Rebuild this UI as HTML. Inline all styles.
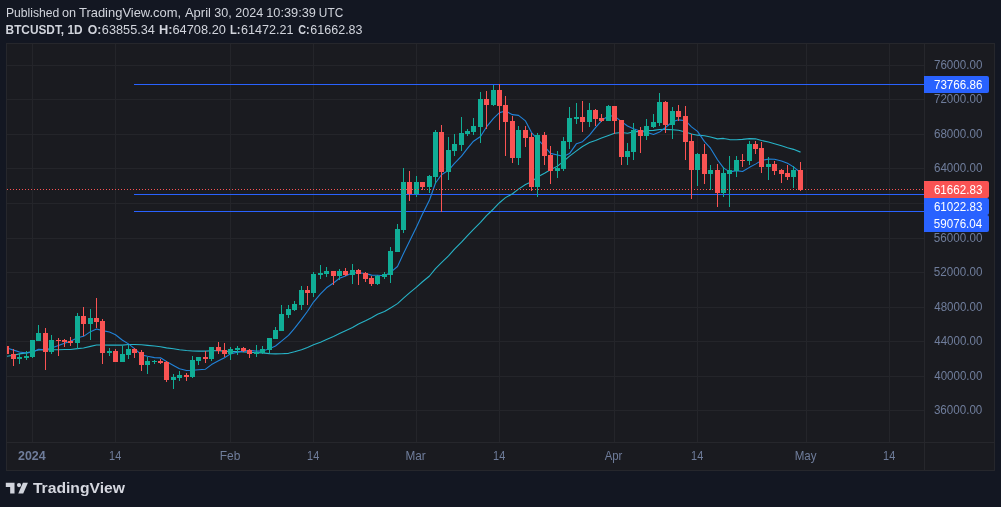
<!DOCTYPE html>
<html><head><meta charset="utf-8"><title>BTCUSDT</title>
<style>
html,body{margin:0;padding:0;background:#131722;}
body{width:1001px;height:507px;overflow:hidden;position:relative;font-family:"Liberation Sans",sans-serif;}
svg{position:absolute;left:0;top:0;will-change:transform;}
text{font-family:"Liberation Sans",sans-serif;}
</style></head><body>
<svg width="1001" height="507" viewBox="0 0 1001 507">
<rect x="0" y="0" width="1001" height="507" fill="#131722"/>
<!-- chart frame -->
<rect x="6" y="43" width="989" height="428" fill="#26272c"/>
<rect x="7" y="44" width="987" height="426" fill="#1a1b20"/>
<!-- grid -->
<g fill="#24252a" shape-rendering="crispEdges">
<rect x="7" y="65" width="917" height="1"/><rect x="7" y="99" width="917" height="1"/><rect x="7" y="134" width="917" height="1"/><rect x="7" y="168" width="917" height="1"/><rect x="7" y="203" width="917" height="1"/><rect x="7" y="238" width="917" height="1"/><rect x="7" y="272" width="917" height="1"/><rect x="7" y="307" width="917" height="1"/><rect x="7" y="341" width="917" height="1"/><rect x="7" y="376" width="917" height="1"/><rect x="7" y="410" width="917" height="1"/>
<rect x="32" y="44" width="1" height="398"/><rect x="115" y="44" width="1" height="398"/><rect x="230" y="44" width="1" height="398"/><rect x="313" y="44" width="1" height="398"/><rect x="416" y="44" width="1" height="398"/><rect x="499" y="44" width="1" height="398"/><rect x="614" y="44" width="1" height="398"/><rect x="697" y="44" width="1" height="398"/><rect x="806" y="44" width="1" height="398"/><rect x="889" y="44" width="1" height="398"/>
</g>
<!-- axes separators -->
<g fill="#26272c" shape-rendering="crispEdges">
<rect x="924" y="44" width="1" height="426"/>
<rect x="7" y="442" width="987" height="1"/>
</g>
<defs><clipPath id="cp"><rect x="7" y="44" width="917" height="398"/></clipPath></defs>
<g clip-path="url(#cp)">
<!-- horizontal lines -->
<g fill="#2962ff" shape-rendering="crispEdges">
<rect x="134" y="84" width="790" height="1"/>
<rect x="134" y="194" width="790" height="1"/>
<rect x="134" y="211" width="790" height="1"/>
</g>
<path d="M6.50,356.38 L13.50,355.17 L19.50,353.90 L26.50,352.86 L32.50,351.50 L38.50,350.07 L45.50,349.82 L51.50,349.80 L58.50,349.69 L64.50,349.49 L70.50,349.56 L77.50,348.63 L83.50,347.96 L90.50,346.40 L96.50,345.01 L102.50,345.03 L109.50,345.08 L115.50,345.14 L122.50,345.08 L128.50,344.57 L134.50,344.53 L141.50,344.80 L147.50,345.38 L154.50,346.01 L160.50,346.70 L166.50,347.89 L173.50,348.78 L179.50,349.78 L186.50,350.52 L192.50,350.98 L198.50,351.13 L205.50,351.14 L211.50,350.81 L218.50,350.62 L224.50,351.08 L230.50,351.61 L237.50,351.51 L243.50,351.84 L249.50,352.29 L256.50,352.65 L262.50,352.89 L269.50,353.64 L275.50,353.88 L281.50,353.74 L288.50,353.33 L294.50,351.74 L301.50,349.71 L307.50,347.41 L313.50,344.74 L320.50,342.22 L326.50,339.53 L333.50,336.56 L339.50,333.55 L345.50,330.64 L352.50,327.57 L358.50,324.03 L365.50,320.75 L371.50,317.69 L377.50,314.34 L384.50,311.49 L390.50,307.93 L397.50,303.61 L403.50,298.11 L409.50,292.87 L416.50,287.17 L422.50,281.72 L429.50,275.99 L435.50,268.72 L441.50,262.64 L448.50,255.91 L454.50,249.08 L461.50,242.23 L467.50,235.61 L473.50,229.32 L480.50,222.32 L486.50,215.65 L493.50,208.98 L499.50,202.74 L505.50,197.64 L512.50,193.78 L518.50,189.09 L525.50,184.50 L531.50,181.68 L537.50,177.05 L544.50,173.24 L550.50,169.80 L557.50,166.13 L563.50,161.39 L569.50,156.11 L576.50,150.86 L582.50,146.54 L589.50,142.58 L595.50,140.45 L601.50,138.01 L608.50,135.45 L614.50,133.25 L621.50,132.57 L627.50,133.23 L633.50,131.86 L640.50,131.35 L646.50,130.76 L653.50,130.40 L659.50,129.44 L665.50,129.39 L672.50,129.80 L678.50,130.21 L685.50,131.92 L691.50,134.07 L697.50,135.17 L704.50,135.72 L710.50,137.04 L717.50,138.86 L723.50,138.42 L729.50,139.58 L736.50,139.74 L742.50,139.41 L749.50,138.61 L755.50,138.84 L761.50,140.45 L768.50,142.03 L774.50,143.67 L781.50,145.78 L787.50,147.72 L793.50,149.36 L800.50,152.13" fill="none" stroke="#27b3c7" stroke-width="1.1" stroke-linejoin="round"/>
<path d="M6.50,347.79 L13.50,350.13 L19.50,352.06 L26.50,352.94 L32.50,352.19 L38.50,349.18 L45.50,349.90 L51.50,348.05 L58.50,345.49 L64.50,343.23 L70.50,341.20 L77.50,337.78 L83.50,336.34 L90.50,331.64 L96.50,328.94 L102.50,330.63 L109.50,332.01 L115.50,334.72 L122.50,340.20 L128.50,343.87 L134.50,348.65 L141.50,354.84 L147.50,356.22 L154.50,357.64 L160.50,357.83 L166.50,361.46 L173.50,365.46 L179.50,368.78 L186.50,370.47 L192.50,370.26 L198.50,369.74 L205.50,369.18 L211.50,364.58 L218.50,360.82 L224.50,357.74 L230.50,353.89 L237.50,352.19 L243.50,351.09 L249.50,350.41 L256.50,351.14 L262.50,350.95 L269.50,348.77 L275.50,346.04 L281.50,341.19 L288.50,335.34 L294.50,328.29 L301.50,319.39 L307.50,311.25 L313.50,302.06 L320.50,293.93 L326.50,287.77 L333.50,282.97 L339.50,278.23 L345.50,275.94 L352.50,272.78 L358.50,272.71 L365.50,273.45 L371.50,275.15 L377.50,275.24 L384.50,275.74 L390.50,272.41 L397.50,266.51 L403.50,253.45 L409.50,241.31 L416.50,226.94 L422.50,214.09 L429.50,200.04 L435.50,183.05 L441.50,174.80 L448.50,170.30 L454.50,163.28 L461.50,156.20 L467.50,148.39 L473.50,141.19 L480.50,136.46 L486.50,126.92 L493.50,118.28 L499.50,112.65 L505.50,110.96 L512.50,114.67 L518.50,115.37 L525.50,120.88 L531.50,132.62 L537.50,139.08 L544.50,146.34 L550.50,153.38 L557.50,154.94 L563.50,156.40 L569.50,153.59 L576.50,143.66 L582.50,141.65 L589.50,135.14 L595.50,127.67 L601.50,120.82 L608.50,115.80 L614.50,116.09 L621.50,121.67 L627.50,126.00 L633.50,128.83 L640.50,131.33 L646.50,132.18 L653.50,134.55 L659.50,132.08 L665.50,127.53 L672.50,121.77 L678.50,119.84 L685.50,120.71 L691.50,126.85 L697.50,131.41 L704.50,141.57 L710.50,148.17 L717.50,159.72 L723.50,167.84 L729.50,171.91 L736.50,170.65 L742.50,171.55 L749.50,167.35 L755.50,164.12 L761.50,160.40 L768.50,159.13 L774.50,159.19 L781.50,161.02 L787.50,163.26 L793.50,166.90 L800.50,172.77" fill="none" stroke="#2183d9" stroke-width="1.1" stroke-linejoin="round"/>
<g shape-rendering="crispEdges">
<rect x="6" y="343" width="1" height="14" fill="#fa5353"/>
<rect x="4" y="346" width="5" height="8" fill="#fa5353"/>
<rect x="13" y="349" width="1" height="17" fill="#fa5353"/>
<rect x="11" y="354" width="5" height="5" fill="#fa5353"/>
<rect x="19" y="353" width="1" height="11" fill="#10ad96"/>
<rect x="17" y="357" width="5" height="2" fill="#10ad96"/>
<rect x="26" y="351" width="1" height="9" fill="#10ad96"/>
<rect x="24" y="356" width="5" height="2" fill="#10ad96"/>
<rect x="32" y="340" width="1" height="18" fill="#10ad96"/>
<rect x="30" y="340" width="5" height="17" fill="#10ad96"/>
<rect x="38" y="325" width="1" height="16" fill="#10ad96"/>
<rect x="36" y="333" width="5" height="8" fill="#10ad96"/>
<rect x="45" y="328" width="1" height="42" fill="#fa5353"/>
<rect x="43" y="333" width="5" height="19" fill="#fa5353"/>
<rect x="51" y="335" width="1" height="19" fill="#10ad96"/>
<rect x="49" y="340" width="5" height="12" fill="#10ad96"/>
<rect x="58" y="338" width="1" height="18" fill="#fa5353"/>
<rect x="56" y="340" width="5" height="1" fill="#fa5353"/>
<rect x="64" y="339" width="1" height="8" fill="#fa5353"/>
<rect x="62" y="340" width="5" height="2" fill="#fa5353"/>
<rect x="70" y="337" width="1" height="9" fill="#fa5353"/>
<rect x="68" y="341" width="5" height="2" fill="#fa5353"/>
<rect x="77" y="313" width="1" height="36" fill="#10ad96"/>
<rect x="75" y="316" width="5" height="27" fill="#10ad96"/>
<rect x="83" y="307" width="1" height="29" fill="#fa5353"/>
<rect x="81" y="316" width="5" height="8" fill="#fa5353"/>
<rect x="90" y="309" width="1" height="31" fill="#10ad96"/>
<rect x="88" y="318" width="5" height="6" fill="#10ad96"/>
<rect x="96" y="298" width="1" height="30" fill="#fa5353"/>
<rect x="94" y="318" width="5" height="4" fill="#fa5353"/>
<rect x="102" y="319" width="1" height="45" fill="#fa5353"/>
<rect x="100" y="321" width="5" height="32" fill="#fa5353"/>
<rect x="109" y="348" width="1" height="8" fill="#10ad96"/>
<rect x="107" y="351" width="5" height="2" fill="#10ad96"/>
<rect x="115" y="349" width="1" height="13" fill="#fa5353"/>
<rect x="113" y="351" width="5" height="11" fill="#fa5353"/>
<rect x="122" y="346" width="1" height="16" fill="#10ad96"/>
<rect x="120" y="354" width="5" height="8" fill="#10ad96"/>
<rect x="128" y="345" width="1" height="14" fill="#10ad96"/>
<rect x="126" y="349" width="5" height="6" fill="#10ad96"/>
<rect x="134" y="348" width="1" height="10" fill="#fa5353"/>
<rect x="132" y="349" width="5" height="4" fill="#fa5353"/>
<rect x="141" y="350" width="1" height="21" fill="#fa5353"/>
<rect x="139" y="352" width="5" height="13" fill="#fa5353"/>
<rect x="147" y="357" width="1" height="17" fill="#10ad96"/>
<rect x="145" y="361" width="5" height="4" fill="#10ad96"/>
<rect x="154" y="360" width="1" height="4" fill="#10ad96"/>
<rect x="152" y="361" width="5" height="1" fill="#10ad96"/>
<rect x="160" y="359" width="1" height="5" fill="#fa5353"/>
<rect x="158" y="361" width="5" height="2" fill="#fa5353"/>
<rect x="166" y="361" width="1" height="21" fill="#fa5353"/>
<rect x="164" y="362" width="5" height="18" fill="#fa5353"/>
<rect x="173" y="374" width="1" height="15" fill="#10ad96"/>
<rect x="171" y="377" width="5" height="3" fill="#10ad96"/>
<rect x="179" y="371" width="1" height="10" fill="#10ad96"/>
<rect x="177" y="375" width="5" height="3" fill="#10ad96"/>
<rect x="186" y="373" width="1" height="8" fill="#fa5353"/>
<rect x="184" y="375" width="5" height="2" fill="#fa5353"/>
<rect x="192" y="356" width="1" height="22" fill="#10ad96"/>
<rect x="190" y="360" width="5" height="17" fill="#10ad96"/>
<rect x="198" y="357" width="1" height="8" fill="#10ad96"/>
<rect x="196" y="357" width="5" height="4" fill="#10ad96"/>
<rect x="205" y="351" width="1" height="12" fill="#fa5353"/>
<rect x="203" y="357" width="5" height="2" fill="#fa5353"/>
<rect x="211" y="347" width="1" height="14" fill="#10ad96"/>
<rect x="209" y="347" width="5" height="12" fill="#10ad96"/>
<rect x="218" y="342" width="1" height="12" fill="#fa5353"/>
<rect x="216" y="347" width="5" height="4" fill="#fa5353"/>
<rect x="224" y="343" width="1" height="14" fill="#fa5353"/>
<rect x="222" y="350" width="5" height="4" fill="#fa5353"/>
<rect x="230" y="347" width="1" height="13" fill="#10ad96"/>
<rect x="228" y="349" width="5" height="5" fill="#10ad96"/>
<rect x="237" y="346" width="1" height="9" fill="#10ad96"/>
<rect x="235" y="348" width="5" height="2" fill="#10ad96"/>
<rect x="243" y="347" width="1" height="5" fill="#fa5353"/>
<rect x="241" y="348" width="5" height="3" fill="#fa5353"/>
<rect x="249" y="349" width="1" height="9" fill="#fa5353"/>
<rect x="247" y="350" width="5" height="4" fill="#fa5353"/>
<rect x="256" y="345" width="1" height="12" fill="#10ad96"/>
<rect x="254" y="352" width="5" height="2" fill="#10ad96"/>
<rect x="262" y="346" width="1" height="8" fill="#10ad96"/>
<rect x="260" y="349" width="5" height="4" fill="#10ad96"/>
<rect x="269" y="338" width="1" height="15" fill="#10ad96"/>
<rect x="267" y="338" width="5" height="12" fill="#10ad96"/>
<rect x="275" y="327" width="1" height="12" fill="#10ad96"/>
<rect x="273" y="330" width="5" height="9" fill="#10ad96"/>
<rect x="281" y="305" width="1" height="26" fill="#10ad96"/>
<rect x="279" y="314" width="5" height="17" fill="#10ad96"/>
<rect x="288" y="305" width="1" height="13" fill="#10ad96"/>
<rect x="286" y="309" width="5" height="6" fill="#10ad96"/>
<rect x="294" y="301" width="1" height="10" fill="#10ad96"/>
<rect x="292" y="304" width="5" height="6" fill="#10ad96"/>
<rect x="301" y="286" width="1" height="24" fill="#10ad96"/>
<rect x="299" y="290" width="5" height="15" fill="#10ad96"/>
<rect x="307" y="286" width="1" height="19" fill="#fa5353"/>
<rect x="305" y="290" width="5" height="3" fill="#fa5353"/>
<rect x="313" y="272" width="1" height="25" fill="#10ad96"/>
<rect x="311" y="274" width="5" height="19" fill="#10ad96"/>
<rect x="320" y="265" width="1" height="14" fill="#10ad96"/>
<rect x="318" y="273" width="5" height="2" fill="#10ad96"/>
<rect x="326" y="267" width="1" height="10" fill="#10ad96"/>
<rect x="324" y="271" width="5" height="3" fill="#10ad96"/>
<rect x="333" y="271" width="1" height="14" fill="#fa5353"/>
<rect x="331" y="271" width="5" height="5" fill="#fa5353"/>
<rect x="339" y="269" width="1" height="11" fill="#10ad96"/>
<rect x="337" y="271" width="5" height="5" fill="#10ad96"/>
<rect x="345" y="268" width="1" height="8" fill="#fa5353"/>
<rect x="343" y="271" width="5" height="4" fill="#fa5353"/>
<rect x="352" y="264" width="1" height="20" fill="#10ad96"/>
<rect x="350" y="270" width="5" height="5" fill="#10ad96"/>
<rect x="358" y="269" width="1" height="16" fill="#fa5353"/>
<rect x="356" y="270" width="5" height="4" fill="#fa5353"/>
<rect x="365" y="272" width="1" height="10" fill="#fa5353"/>
<rect x="363" y="273" width="5" height="6" fill="#fa5353"/>
<rect x="371" y="276" width="1" height="10" fill="#fa5353"/>
<rect x="369" y="278" width="5" height="6" fill="#fa5353"/>
<rect x="377" y="275" width="1" height="10" fill="#10ad96"/>
<rect x="375" y="276" width="5" height="8" fill="#10ad96"/>
<rect x="384" y="272" width="1" height="7" fill="#10ad96"/>
<rect x="382" y="274" width="5" height="3" fill="#10ad96"/>
<rect x="390" y="247" width="1" height="36" fill="#10ad96"/>
<rect x="388" y="251" width="5" height="24" fill="#10ad96"/>
<rect x="397" y="224" width="1" height="28" fill="#10ad96"/>
<rect x="395" y="229" width="5" height="23" fill="#10ad96"/>
<rect x="403" y="168" width="1" height="65" fill="#10ad96"/>
<rect x="401" y="182" width="5" height="48" fill="#10ad96"/>
<rect x="409" y="171" width="1" height="30" fill="#fa5353"/>
<rect x="407" y="182" width="5" height="12" fill="#fa5353"/>
<rect x="416" y="176" width="1" height="21" fill="#10ad96"/>
<rect x="414" y="182" width="5" height="12" fill="#10ad96"/>
<rect x="422" y="182" width="1" height="8" fill="#fa5353"/>
<rect x="420" y="182" width="5" height="5" fill="#fa5353"/>
<rect x="429" y="175" width="1" height="18" fill="#10ad96"/>
<rect x="427" y="176" width="5" height="11" fill="#10ad96"/>
<rect x="435" y="130" width="1" height="54" fill="#10ad96"/>
<rect x="433" y="132" width="5" height="45" fill="#10ad96"/>
<rect x="441" y="125" width="1" height="87" fill="#fa5353"/>
<rect x="439" y="132" width="5" height="40" fill="#fa5353"/>
<rect x="448" y="137" width="1" height="43" fill="#10ad96"/>
<rect x="446" y="150" width="5" height="22" fill="#10ad96"/>
<rect x="454" y="134" width="1" height="22" fill="#10ad96"/>
<rect x="452" y="144" width="5" height="7" fill="#10ad96"/>
<rect x="461" y="117" width="1" height="34" fill="#10ad96"/>
<rect x="459" y="133" width="5" height="12" fill="#10ad96"/>
<rect x="467" y="129" width="1" height="7" fill="#10ad96"/>
<rect x="465" y="131" width="5" height="3" fill="#10ad96"/>
<rect x="473" y="118" width="1" height="17" fill="#10ad96"/>
<rect x="471" y="126" width="5" height="6" fill="#10ad96"/>
<rect x="480" y="92" width="1" height="51" fill="#10ad96"/>
<rect x="478" y="99" width="5" height="28" fill="#10ad96"/>
<rect x="486" y="91" width="1" height="38" fill="#fa5353"/>
<rect x="484" y="99" width="5" height="6" fill="#fa5353"/>
<rect x="493" y="85" width="1" height="21" fill="#10ad96"/>
<rect x="491" y="90" width="5" height="15" fill="#10ad96"/>
<rect x="499" y="84" width="1" height="46" fill="#fa5353"/>
<rect x="497" y="90" width="5" height="16" fill="#fa5353"/>
<rect x="505" y="96" width="1" height="60" fill="#fa5353"/>
<rect x="503" y="105" width="5" height="17" fill="#fa5353"/>
<rect x="512" y="116" width="1" height="47" fill="#fa5353"/>
<rect x="510" y="121" width="5" height="37" fill="#fa5353"/>
<rect x="518" y="126" width="1" height="39" fill="#10ad96"/>
<rect x="516" y="130" width="5" height="28" fill="#10ad96"/>
<rect x="525" y="126" width="1" height="21" fill="#fa5353"/>
<rect x="523" y="130" width="5" height="8" fill="#fa5353"/>
<rect x="531" y="133" width="1" height="58" fill="#fa5353"/>
<rect x="529" y="137" width="5" height="50" fill="#fa5353"/>
<rect x="537" y="133" width="1" height="64" fill="#10ad96"/>
<rect x="535" y="135" width="5" height="52" fill="#10ad96"/>
<rect x="544" y="132" width="1" height="33" fill="#fa5353"/>
<rect x="542" y="135" width="5" height="21" fill="#fa5353"/>
<rect x="550" y="146" width="1" height="38" fill="#fa5353"/>
<rect x="548" y="155" width="5" height="16" fill="#fa5353"/>
<rect x="557" y="151" width="1" height="27" fill="#10ad96"/>
<rect x="555" y="168" width="5" height="3" fill="#10ad96"/>
<rect x="563" y="137" width="1" height="34" fill="#10ad96"/>
<rect x="561" y="141" width="5" height="28" fill="#10ad96"/>
<rect x="569" y="107" width="1" height="42" fill="#10ad96"/>
<rect x="567" y="118" width="5" height="24" fill="#10ad96"/>
<rect x="576" y="103" width="1" height="21" fill="#10ad96"/>
<rect x="574" y="117" width="5" height="2" fill="#10ad96"/>
<rect x="582" y="101" width="1" height="31" fill="#fa5353"/>
<rect x="580" y="117" width="5" height="5" fill="#fa5353"/>
<rect x="589" y="103" width="1" height="24" fill="#10ad96"/>
<rect x="587" y="110" width="5" height="12" fill="#10ad96"/>
<rect x="595" y="109" width="1" height="17" fill="#fa5353"/>
<rect x="593" y="110" width="5" height="9" fill="#fa5353"/>
<rect x="601" y="114" width="1" height="8" fill="#fa5353"/>
<rect x="599" y="118" width="5" height="3" fill="#fa5353"/>
<rect x="608" y="105" width="1" height="16" fill="#10ad96"/>
<rect x="606" y="106" width="5" height="15" fill="#10ad96"/>
<rect x="614" y="106" width="1" height="28" fill="#fa5353"/>
<rect x="612" y="106" width="5" height="15" fill="#fa5353"/>
<rect x="621" y="120" width="1" height="45" fill="#fa5353"/>
<rect x="619" y="120" width="5" height="37" fill="#fa5353"/>
<rect x="627" y="143" width="1" height="22" fill="#10ad96"/>
<rect x="625" y="151" width="5" height="6" fill="#10ad96"/>
<rect x="633" y="123" width="1" height="37" fill="#10ad96"/>
<rect x="631" y="130" width="5" height="22" fill="#10ad96"/>
<rect x="640" y="127" width="1" height="26" fill="#fa5353"/>
<rect x="638" y="130" width="5" height="6" fill="#fa5353"/>
<rect x="646" y="119" width="1" height="21" fill="#10ad96"/>
<rect x="644" y="126" width="5" height="10" fill="#10ad96"/>
<rect x="653" y="114" width="1" height="14" fill="#10ad96"/>
<rect x="651" y="122" width="5" height="5" fill="#10ad96"/>
<rect x="659" y="93" width="1" height="33" fill="#10ad96"/>
<rect x="657" y="102" width="5" height="21" fill="#10ad96"/>
<rect x="665" y="101" width="1" height="32" fill="#fa5353"/>
<rect x="663" y="102" width="5" height="23" fill="#fa5353"/>
<rect x="672" y="107" width="1" height="32" fill="#10ad96"/>
<rect x="670" y="111" width="5" height="14" fill="#10ad96"/>
<rect x="678" y="105" width="1" height="16" fill="#fa5353"/>
<rect x="676" y="111" width="5" height="6" fill="#fa5353"/>
<rect x="685" y="106" width="1" height="54" fill="#fa5353"/>
<rect x="683" y="116" width="5" height="26" fill="#fa5353"/>
<rect x="691" y="134" width="1" height="65" fill="#fa5353"/>
<rect x="689" y="141" width="5" height="29" fill="#fa5353"/>
<rect x="697" y="153" width="1" height="33" fill="#10ad96"/>
<rect x="695" y="154" width="5" height="16" fill="#10ad96"/>
<rect x="704" y="144" width="1" height="40" fill="#fa5353"/>
<rect x="702" y="154" width="5" height="20" fill="#fa5353"/>
<rect x="710" y="165" width="1" height="25" fill="#10ad96"/>
<rect x="708" y="170" width="5" height="4" fill="#10ad96"/>
<rect x="717" y="164" width="1" height="43" fill="#fa5353"/>
<rect x="715" y="170" width="5" height="23" fill="#fa5353"/>
<rect x="723" y="167" width="1" height="30" fill="#10ad96"/>
<rect x="721" y="173" width="5" height="20" fill="#10ad96"/>
<rect x="729" y="156" width="1" height="51" fill="#10ad96"/>
<rect x="727" y="170" width="5" height="4" fill="#10ad96"/>
<rect x="736" y="156" width="1" height="21" fill="#10ad96"/>
<rect x="734" y="160" width="5" height="11" fill="#10ad96"/>
<rect x="742" y="154" width="1" height="13" fill="#fa5353"/>
<rect x="740" y="160" width="5" height="1" fill="#fa5353"/>
<rect x="749" y="141" width="1" height="24" fill="#10ad96"/>
<rect x="747" y="144" width="5" height="17" fill="#10ad96"/>
<rect x="755" y="141" width="1" height="13" fill="#fa5353"/>
<rect x="753" y="144" width="5" height="5" fill="#fa5353"/>
<rect x="761" y="142" width="1" height="31" fill="#fa5353"/>
<rect x="759" y="148" width="5" height="19" fill="#fa5353"/>
<rect x="768" y="157" width="1" height="23" fill="#10ad96"/>
<rect x="766" y="164" width="5" height="3" fill="#10ad96"/>
<rect x="774" y="161" width="1" height="14" fill="#fa5353"/>
<rect x="772" y="164" width="5" height="7" fill="#fa5353"/>
<rect x="781" y="169" width="1" height="14" fill="#fa5353"/>
<rect x="779" y="170" width="5" height="4" fill="#fa5353"/>
<rect x="787" y="165" width="1" height="15" fill="#fa5353"/>
<rect x="785" y="173" width="5" height="4" fill="#fa5353"/>
<rect x="793" y="166" width="1" height="22" fill="#10ad96"/>
<rect x="791" y="170" width="5" height="7" fill="#10ad96"/>
<rect x="800" y="162" width="1" height="29" fill="#fa5353"/>
<rect x="798" y="170" width="5" height="20" fill="#fa5353"/>
</g>
<!-- price dotted line -->
<line x1="7" x2="924" y1="189.5" y2="189.5" stroke="#fa5353" stroke-width="1" stroke-dasharray="1 2" shape-rendering="crispEdges"/>
</g>
<!-- price labels -->
<g fill="#ffffff">
<path d="M924 76h63a2 2 0 0 1 2 2v13a2 2 0 0 1-2 2h-63z" fill="#2962ff"/>
<path d="M924 181h63a2 2 0 0 1 2 2v13a2 2 0 0 1-2 2h-63z" fill="#fa5353"/>
<path d="M924 198h63a2 2 0 0 1 2 2v13a2 2 0 0 1-2 2h-63z" fill="#2962ff"/>
<path d="M924 215h63a2 2 0 0 1 2 2v13a2 2 0 0 1-2 2h-63z" fill="#2962ff"/>
</g>
<text transform="translate(933.95 69) scale(0.9679 1)" font-size="12" font-weight="normal" fill="#6f7d9b">76000.00</text>
<text transform="translate(933.95 103) scale(0.9679 1)" font-size="12" font-weight="normal" fill="#6f7d9b">72000.00</text>
<text transform="translate(933.92 138) scale(0.9686 1)" font-size="12" font-weight="normal" fill="#6f7d9b">68000.00</text>
<text transform="translate(933.92 172) scale(0.9686 1)" font-size="12" font-weight="normal" fill="#6f7d9b">64000.00</text>
<text transform="translate(933.85 242) scale(0.9698 1)" font-size="12" font-weight="normal" fill="#6f7d9b">56000.00</text>
<text transform="translate(933.85 276) scale(0.9698 1)" font-size="12" font-weight="normal" fill="#6f7d9b">52000.00</text>
<text transform="translate(934.22 311) scale(0.9624 1)" font-size="12" font-weight="normal" fill="#6f7d9b">48000.00</text>
<text transform="translate(934.22 345) scale(0.9624 1)" font-size="12" font-weight="normal" fill="#6f7d9b">44000.00</text>
<text transform="translate(934.22 380) scale(0.9624 1)" font-size="12" font-weight="normal" fill="#6f7d9b">40000.00</text>
<text transform="translate(933.88 414) scale(0.9692 1)" font-size="12" font-weight="normal" fill="#6f7d9b">36000.00</text>
<text transform="translate(933.94 88.5) scale(0.9694 1)" font-size="12" font-weight="normal" fill="#ffffff">73766.86</text>
<text transform="translate(933.91 193.5) scale(0.9695 1)" font-size="12" font-weight="normal" fill="#ffffff">61662.83</text>
<text transform="translate(933.91 210.5) scale(0.9695 1)" font-size="12" font-weight="normal" fill="#ffffff">61022.83</text>
<text transform="translate(933.86 227.5) scale(0.9672 1)" font-size="12" font-weight="normal" fill="#ffffff">59076.04</text>
<!-- time labels -->
<text transform="translate(17.97 460) scale(1.0375 1)" font-size="12" font-weight="bold" fill="#6f7d9b">2024</text>
<text transform="translate(109.12 460) scale(0.9086 1)" font-size="12" font-weight="normal" fill="#6f7d9b">14</text>
<text transform="translate(219.71 460) scale(0.9971 1)" font-size="12" font-weight="normal" fill="#6f7d9b">Feb</text>
<text transform="translate(307.12 460) scale(0.9086 1)" font-size="12" font-weight="normal" fill="#6f7d9b">14</text>
<text transform="translate(405.53 460) scale(0.9812 1)" font-size="12" font-weight="normal" fill="#6f7d9b">Mar</text>
<text transform="translate(493.12 460) scale(0.9086 1)" font-size="12" font-weight="normal" fill="#6f7d9b">14</text>
<text transform="translate(604.66 460) scale(0.9507 1)" font-size="12" font-weight="normal" fill="#6f7d9b">Apr</text>
<text transform="translate(691.12 460) scale(0.9086 1)" font-size="12" font-weight="normal" fill="#6f7d9b">14</text>
<text transform="translate(794.75 460) scale(0.9638 1)" font-size="12" font-weight="normal" fill="#6f7d9b">May</text>
<text transform="translate(883.12 460) scale(0.9086 1)" font-size="12" font-weight="normal" fill="#6f7d9b">14</text>
<!-- header -->
<text transform="translate(5.89 17) scale(1.0142 1)" font-size="12" font-weight="normal" fill="#d1d4dc">Published</text>
<text transform="translate(62.07 17) scale(1.0553 1)" font-size="12" font-weight="normal" fill="#d1d4dc">on</text>
<text transform="translate(79.00 17) scale(1.0801 1)" font-size="12" font-weight="normal" fill="#d1d4dc">TradingView.com,</text>
<text transform="translate(184.92 17) scale(1.0844 1)" font-size="12" font-weight="normal" fill="#d1d4dc">April</text>
<text transform="translate(214.33 17) scale(1.0472 1)" font-size="12" font-weight="normal" fill="#d1d4dc">30,</text>
<text transform="translate(235.29 17) scale(1.0464 1)" font-size="12" font-weight="normal" fill="#d1d4dc">2024</text>
<text transform="translate(266.26 17) scale(1.0652 1)" font-size="12" font-weight="normal" fill="#d1d4dc">10:39:39</text>
<text transform="translate(318.87 17) scale(0.9887 1)" font-size="12" font-weight="normal" fill="#d1d4dc">UTC</text>
<text transform="translate(5.58 34) scale(0.9882 1)" font-size="12" font-weight="bold" fill="#d1d4dc">BTCUSDT, 1D</text>
<text transform="translate(87.81 34) scale(1.0190 1)" font-size="12" font-weight="bold" fill="#d1d4dc">O:</text>
<text transform="translate(101.86 34) scale(1.0594 1)" font-size="12" font-weight="normal" fill="#d1d4dc">63855.34</text>
<text transform="translate(158.90 34) scale(1.0668 1)" font-size="12" font-weight="bold" fill="#d1d4dc">H:</text>
<text transform="translate(172.45 34) scale(1.0683 1)" font-size="12" font-weight="normal" fill="#d1d4dc">64708.20</text>
<text transform="translate(229.95 34) scale(0.9291 1)" font-size="12" font-weight="bold" fill="#d1d4dc">L:</text>
<text transform="translate(241.07 34) scale(1.0507 1)" font-size="12" font-weight="normal" fill="#d1d4dc">61472.21</text>
<text transform="translate(298.17 34) scale(0.8990 1)" font-size="12" font-weight="bold" fill="#d1d4dc">C:</text>
<text transform="translate(310.37 34) scale(1.0428 1)" font-size="12" font-weight="normal" fill="#d1d4dc">61662.83</text>
<!-- logo -->
<g fill="#d1d4dc">
<g transform="translate(5.8 480.45) scale(0.623 0.589)"><path d="M14 22H7V11H0V4h14v18z"/><ellipse cx="21.2" cy="7.9" rx="3.4" ry="3.6"/><path d="M28 22h-8l7.5-18h8L28 22z"/></g>
<text transform="translate(32.90 493.4) scale(1.0971 1)" font-size="14.3" font-weight="bold" fill="#d5d7df">TradingView</text>
</g>
</svg>
</body></html>
